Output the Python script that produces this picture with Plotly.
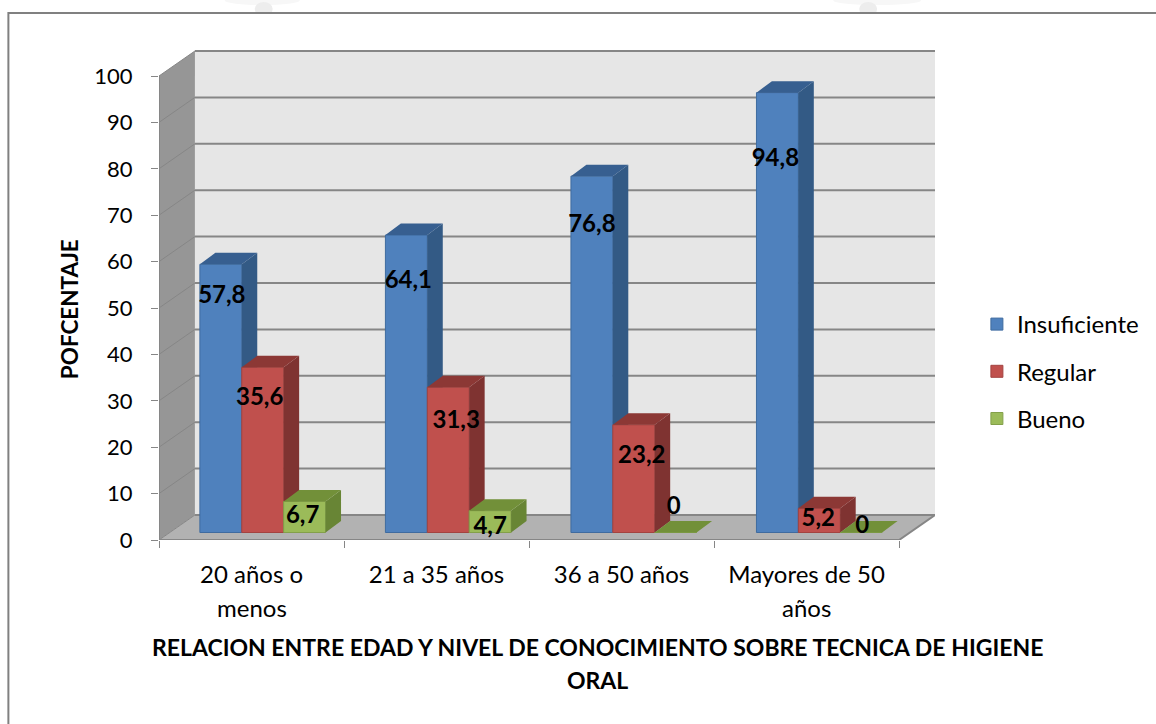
import plotly.graph_objects as go

# ---------- data ----------
CATEGORIES_L1 = ["20 años o", "21 a 35 años", "36 a 50 años", "Mayores de 50"]
CATEGORIES_L2 = ["menos", "", "", "años"]
SERIES = ["Insuficiente", "Regular", "Bueno"]
INSUFICIENTE = [57.8, 64.1, 76.8, 94.8]
REGULAR = [35.6, 31.3, 23.2, 5.2]
BUENO = [6.7, 4.7, 0, 0]
Y_TICKS = [0, 10, 20, 30, 40, 50, 60, 70, 80, 90, 100]
# label nudges (pixels): drop below bar top, and right of bar centre
DROP = [[33, 47, 50, 67], [32, 35, 32, 12], [16, 17, -25, -6]]
SHIFT = [[1, 2, 0, -2], [-3, 8, 8, -1], [-2, 0, -2, 1]]

# ---------- page geometry ----------
W, H = 1156, 724
L, R, T, B = 159, 937, 50, 540
PX_X = 185.5            # pixels per category
PX_Y = 4.64             # pixels per percent
XMAX = (R - L) / PX_X
YMAX = (B - T) / PX_Y
WALL_DX = 36 / PX_X
WALL_DY = 25 / PX_Y
BAR_DX = 15.5 / PX_X
BAR_DY = 11.5 / PX_Y
BAR_W = 42 / PX_X
BAR_START = 41 / PX_X
GROUP_STEP = 186 / PX_X
BAR_BASE = 7.5 / PX_Y
FONT = "Lato"


def px(x):
    return (x - L) / (R - L)


def py(y):
    return (B - y) / (B - T)


FRONT = ["#4f81bd", "#c0504d", "#9bbb59"]
EDGE = ["#3f6b9f", "#a34340", "#83a04a"]
SIDE = ["#335a85", "#7f3331", "#688535"]
TOP = ["#375f90", "#8c3835", "#729039"]
LINE = "#868686"

fig = go.Figure()

# walls (base subplot)
wall_kw = dict(mode="lines", fill="toself", line=dict(width=0), hoverinfo="skip", showlegend=False)
fig.add_trace(go.Scatter(x=[WALL_DX, XMAX, XMAX, WALL_DX, WALL_DX],
                         y=[WALL_DY, WALL_DY, 100 + WALL_DY, 100 + WALL_DY, WALL_DY],
                         fillcolor="#e6e6e6", **wall_kw))
fig.add_trace(go.Scatter(x=[0, WALL_DX, WALL_DX, 0, 0],
                         y=[0, WALL_DY, 100 + WALL_DY, 100, 0],
                         fillcolor="#969696", **wall_kw))
fig.add_trace(go.Scatter(x=[0, XMAX - WALL_DX, XMAX, WALL_DX, 0],
                         y=[0, 0, WALL_DY, WALL_DY, 0],
                         fillcolor="#b2b2b2", **wall_kw))
gx, gy, sx, sy = [], [], [], []
for t in Y_TICKS:
    gx += [WALL_DX, XMAX, None]
    gy += [t + WALL_DY, t + WALL_DY, None]
    sx += [0, WALL_DX, None]
    sy += [t, t + WALL_DY, None]
fig.add_trace(go.Scatter(x=sx, y=sy, mode="lines", line=dict(color=LINE, width=1),
                         hoverinfo="skip", showlegend=False))
fig.add_trace(go.Scatter(x=gx, y=gy, mode="lines", line=dict(color=LINE, width=2),
                         hoverinfo="skip", showlegend=False))
fig.add_trace(go.Scatter(x=[0, 0, None, 0, XMAX - WALL_DX, XMAX], y=[0, 100, None, 0, 0, WALL_DY], mode="lines",
                         line=dict(color=LINE, width=2), hoverinfo="skip", showlegend=False, cliponaxis=False))

# bars, each series on its own overlaid subplot so that it can cover the previous one
for s, vals in enumerate([INSUFICIENTE, REGULAR, BUENO]):
    xa, ya = f"x{s + 3}", f"y{s + 3}"
    starts = [i * GROUP_STEP + BAR_START + s * BAR_W for i in range(len(vals))]
    fig.add_trace(go.Bar(x=starts, y=vals, base=BAR_BASE, width=BAR_W, offset=0, name=SERIES[s],
                         marker=dict(color=FRONT[s], line=dict(color=EDGE[s], width=1)),
                         legendgroup=SERIES[s], xaxis=xa, yaxis=ya))
    side_x, side_y, top_x, top_y = [], [], [], []
    for x0, v in zip(starts, vals):
        x1, v0, v1 = x0 + BAR_W, BAR_BASE, BAR_BASE + v
        side_x += [x1, x1 + BAR_DX, x1 + BAR_DX, x1, x1, None]
        side_y += [v0, v0 + BAR_DY, v1 + BAR_DY, v1, v0, None]
        top_x += [x0, x1, x1 + BAR_DX, x0 + BAR_DX, x0, None]
        top_y += [v1, v1, v1 + BAR_DY, v1 + BAR_DY, v1, None]
    fig.add_trace(go.Scatter(x=side_x, y=side_y, mode="lines", fill="toself", fillcolor=SIDE[s],
                             line=dict(width=0), hoverinfo="skip", showlegend=False, xaxis=xa, yaxis=ya))
    fig.add_trace(go.Scatter(x=top_x, y=top_y, mode="lines", fill="toself", fillcolor=TOP[s],
                             line=dict(width=0), hoverinfo="skip", showlegend=False, xaxis=xa, yaxis=ya))

# data labels on the top overlay
lx, ly, lt = [], [], []
for s, vals in enumerate([INSUFICIENTE, REGULAR, BUENO]):
    for i, v in enumerate(vals):
        lx.append(i * GROUP_STEP + BAR_START + s * BAR_W + BAR_W / 2 + SHIFT[s][i] / PX_X)
        ly.append(BAR_BASE + v - DROP[s][i] / PX_Y)
        lt.append(f"{v:g}".replace(".", ","))
fig.add_trace(go.Scatter(x=lx, y=ly, text=lt, mode="text", textposition="middle center",
                         textfont=dict(family=FONT, size=24, color="black", weight="bold"),
                         cliponaxis=False, hoverinfo="skip", showlegend=False, xaxis="x5", yaxis="y5"))

hidden_x = dict(range=[0, XMAX], visible=False, overlaying="x", fixedrange=True)
hidden_y = dict(range=[0, YMAX], visible=False, overlaying="y", fixedrange=True)

anno = dict(showarrow=False, xanchor="center", yanchor="middle")
annotations = []
for i, t in enumerate(CATEGORIES_L2):
    if t:
        annotations.append(dict(x=i + 0.5, y=py(607), xref="x", yref="paper", text=t,
                                font=dict(family=FONT, size=24, color="black"), **anno))
title_font = dict(family=FONT, size=23, color="black", weight="bold")
annotations.append(dict(x=px(599), y=py(647), xref="paper", yref="paper",
                        text="RELACION ENTRE EDAD Y NIVEL DE CONOCIMIENTO SOBRE TECNICA DE HIGIENE",
                        font=title_font, **anno))
annotations.append(dict(x=px(599), y=py(680), xref="paper", yref="paper", text="ORAL",
                        font=title_font, **anno))
annotations.append(dict(x=px(69), y=py(309), xref="paper", yref="paper", text="POFCENTAJE", textangle=-90,
                        font=dict(family=FONT, size=22.5, color="black", weight="bold"), **anno))

watermark = [
    dict(type="circle", xref="paper", yref="paper", x0=px(x0), x1=px(x1), y0=py(y1), y1=py(y0),
         fillcolor=c, line=dict(width=0), layer="below")
    for x0, x1, y0, y1, c in [
        (225, 300, -4, 5, "#f7f7f7"), (255, 273, 2, 16, "#ededed"),
        (835, 923, -4, 5, "#f7f7f7"), (861, 879, 2, 16, "#ededed"),
    ]
]
# white-out below the frame line so the watermark stops there
frame = [
    dict(type="rect", xref="paper", yref="paper", x0=px(8), x1=px(W + 10),
         y0=py(H + 10), y1=py(13), fillcolor="white", line=dict(color="#808080", width=2), layer="below")
]

fig.update_layout(
    width=W, height=H, autosize=False, margin=dict(l=L, r=W - R, t=T, b=H - B),
    paper_bgcolor="white", plot_bgcolor="rgba(0,0,0,0)", barmode="overlay", hovermode=False,
    showlegend=True,
    legend=dict(x=px(979), y=py(302), xanchor="left", yanchor="top",
                font=dict(family=FONT, size=24, color="black"), tracegroupgap=13,
                bgcolor="rgba(0,0,0,0)", traceorder="grouped"),
    xaxis=dict(range=[0, XMAX], tickvals=list(range(5)), ticktext=[""] * 5, ticks="outside", ticklen=7,
               tickcolor=LINE, tickwidth=1, showgrid=False, zeroline=False, showline=False, fixedrange=True),
    xaxis2=dict(range=[0, XMAX], overlaying="x", side="bottom", anchor="y", fixedrange=True,
                tickvals=[i + 0.5 for i in range(4)], ticktext=CATEGORIES_L1, ticks="", showgrid=False,
                zeroline=False, showline=False, ticklabelstandoff=18,
                tickfont=dict(family=FONT, size=24, color="black")),
    yaxis=dict(range=[0, YMAX], tickvals=Y_TICKS, ticks="outside", ticklen=7, tickcolor=LINE,
               tickwidth=1, showgrid=False, zeroline=False, showline=False, fixedrange=True,
               ticklabelstandoff=14, tickfont=dict(family=FONT, size=22, color="black")),
    xaxis3=hidden_x, yaxis3=hidden_y, xaxis4=hidden_x, yaxis4=hidden_y, xaxis5=hidden_x, yaxis5=hidden_y,
    annotations=annotations,
    shapes=watermark + frame,
)
# anchor an invisible trace to xaxis2 so the category labels are drawn
fig.add_trace(go.Scatter(x=[0.5], y=[0], xaxis="x2", mode="markers", marker=dict(opacity=0),
                         hoverinfo="skip", showlegend=False))
fig.write_html("out.html", config=dict(displayModeBar=False),
               post_script="document.body.style.margin='0';document.documentElement.style.overflow='hidden';")
